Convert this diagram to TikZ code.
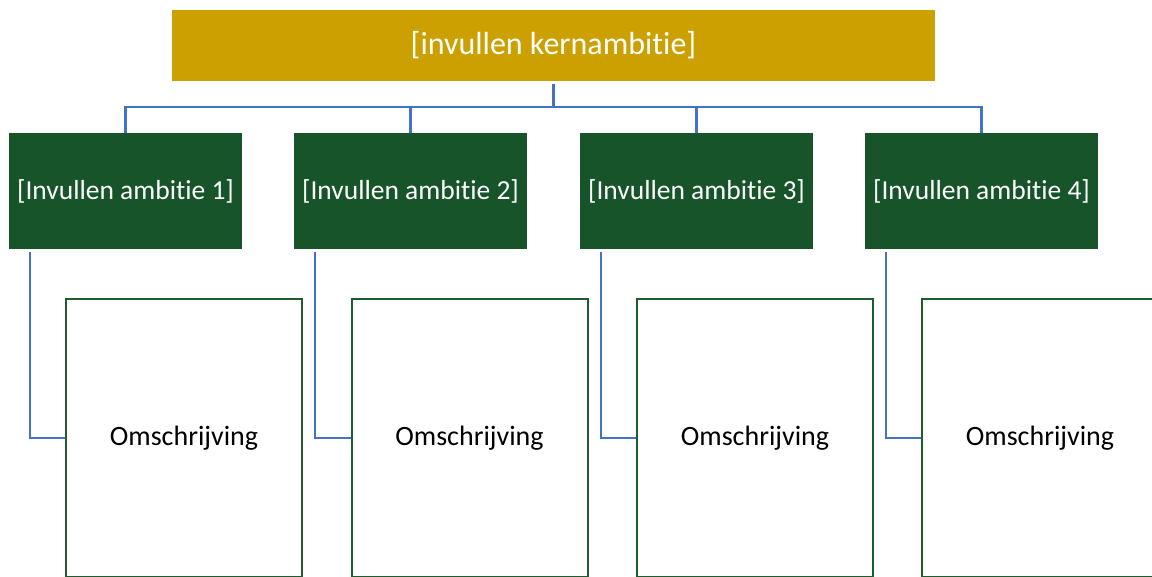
\documentclass[tikz,border=0pt]{standalone}
\usepackage{fontspec}
\setmainfont{Carlito}[Ligatures=NoCommon]
\definecolor{kerngoud}{RGB}{204,160,0}
\definecolor{ambgroen}{RGB}{23,84,42}
\definecolor{lijnblauw}{RGB}{68,114,196}
\definecolor{randgroen}{RGB}{30,92,48}
\tikzset{
    kernbox/.style={fill=kerngoud, text=white, minimum width=763pt, minimum height=71pt, inner sep=0pt, font=\fontsize{32}{36}\selectfont},
    ambbox/.style={fill=ambgroen, text=white, minimum width=233pt, minimum height=116pt, inner sep=0pt, font=\fontsize{27.5}{32}\selectfont},
    omsbox/.style={draw=randgroen, line width=2pt, fill=white, minimum width=236pt, minimum height=278pt, inner sep=0pt, font=\fontsize{28}{32}\selectfont},
    verbind/.style={draw=lijnblauw, line width=2.5pt}
}
\begin{document}
\begin{tikzpicture}[x=1pt, y=-1pt]
        \useasboundingbox (0,0) rectangle (1152,577);
        \clip (0,0) rectangle (1152,577);

        \node[kernbox] (kern) at (553.5,45.5) {[invullen kernambitie]};

        \node[ambbox] (amb1) at (125.5,191) {[Invullen ambitie 1]};
        \node[ambbox] (amb2) at (410.5,191) {[Invullen ambitie 2]};
        \node[ambbox] (amb3) at (696.5,191) {[Invullen ambitie 3]};
        \node[ambbox] (amb4) at (981.5,191) {[Invullen ambitie 4]};

        \node[omsbox] (oms1) at (184,438) {Omschrijving};
        \node[omsbox] (oms2) at (469.5,438) {Omschrijving};
        \node[omsbox] (oms3) at (755,438) {Omschrijving};
        \node[omsbox] (oms4) at (1040,438) {Omschrijving};

        \coordinate (bus) at (553.5,107);
        \draw[verbind] ([yshift=-3pt]kern.south) -- (bus);
        \draw[verbind] (bus) -| (amb1.north);
        \draw[verbind] (bus) -| (amb2.north);
        \draw[verbind] (bus) -| (amb3.north);
        \draw[verbind] (bus) -| (amb4.north);

        \draw[verbind] ([xshift=21pt,yshift=-3pt]amb1.south west) |- (oms1.west);
        \draw[verbind] ([xshift=21pt,yshift=-3pt]amb2.south west) |- (oms2.west);
        \draw[verbind] ([xshift=21pt,yshift=-3pt]amb3.south west) |- (oms3.west);
        \draw[verbind] ([xshift=21pt,yshift=-3pt]amb4.south west) |- (oms4.west);
\end{tikzpicture}
\end{document}
